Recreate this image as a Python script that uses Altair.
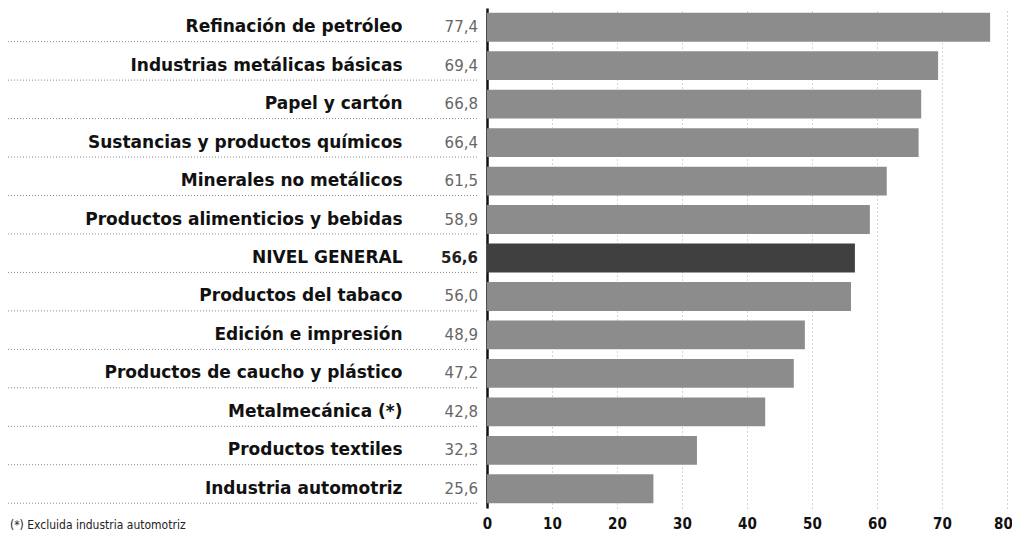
import altair as alt
import pandas as pd

categories = [
    "Refinación de petróleo",
    "Industrias metálicas básicas",
    "Papel y cartón",
    "Sustancias y productos químicos",
    "Minerales no metálicos",
    "Productos alimenticios y bebidas",
    "NIVEL GENERAL",
    "Productos del tabaco",
    "Edición e impresión",
    "Productos de caucho y plástico",
    "Metalmecánica (*)",
    "Productos textiles",
    "Industria automotriz",
]
values = [77.4, 69.4, 66.8, 66.4, 61.5, 58.9, 56.6, 56.0, 48.9, 47.2, 42.8, 32.3, 25.6]
value_labels = ["77,4", "69,4", "66,8", "66,4", "61,5", "58,9", "56,6", "56,0",
                "48,9", "47,2", "42,8", "32,3", "25,6"]
x_ticks = [0, 10, 20, 30, 40, 50, 60, 70, 80]
footnote = "(*) Excluida industria automotriz"

df = pd.DataFrame({
    "cat": categories,
    "val": values,
    "lbl": value_labels,
    "general": [c == "NIVEL GENERAL" for c in categories],
})

COND = "DejaVu Sans Condensed, DejaVu Sans"

y_enc = alt.Y("cat:N", sort=categories, title=None,
              scale=alt.Scale(paddingInner=0.25, paddingOuter=0.125),
              axis=alt.Axis(labelFont="DejaVu Sans", labelFontWeight="bold",
                            labelFontSize=17, labelColor="#111", labelPadding=85,
                            ticks=False, domain=True, domainColor="#111",
                            domainWidth=2.5, labelLimit=400))

base = alt.Chart(df)

seps = base.mark_rule(strokeDash=[1, 2], color="#888", strokeWidth=1).encode(
    y=alt.Y("cat:N", sort=categories, bandPosition=1),
    x=alt.value(-479), x2=alt.value(-8),
)

bars = base.mark_bar().encode(
    y=y_enc,
    x=alt.X("val:Q", title=None,
            scale=alt.Scale(domain=[0, 80], nice=False),
            axis=alt.Axis(values=x_ticks, labelFont=COND,
                          labelFontWeight="bold", labelFontSize=15, labelColor="#111",
                          labelPadding=8, labelFlush=False, ticks=False, domain=False,
                          labelOffset=alt.ExprRef("datum.value == 80 ? -4 : 0"),
                          grid=True, gridDash=[1, 3], gridColor="#aaa", gridWidth=1)),
    color=alt.condition("datum.general", alt.value("#404040"), alt.value("#8c8c8c")),
)

vals = base.transform_filter("!datum.general").mark_text(
    align="right", baseline="middle", font="DejaVu Sans",
    fontSize=15, color="#666").encode(
    y=alt.Y("cat:N", sort=categories),
    x=alt.value(-9),
    text="lbl:N",
)

vals_gen = base.transform_filter("datum.general").mark_text(
    align="right", baseline="middle", font="DejaVu Sans",
    fontSize=15, color="#222", fontWeight="bold").encode(
    y=alt.Y("cat:N", sort=categories),
    x=alt.value(-9),
    text="lbl:N",
)

note = alt.Chart(pd.DataFrame({"t": [footnote]})).mark_text(
    align="left", baseline="middle", font=COND, fontSize=12,
    color="#222").encode(
    x=alt.value(-477), y=alt.value(517), text="t:N")

chart = alt.layer(seps, bars, vals, vals_gen, note).properties(
    width=520, height=500,
    padding={"left": 479, "top": 0, "right": 5, "bottom": 23},
    autosize=alt.AutoSizeParams(type="none"),
).configure_view(stroke=None)

chart.save("out.html", embed_options={"renderer": "svg", "actions": False})
